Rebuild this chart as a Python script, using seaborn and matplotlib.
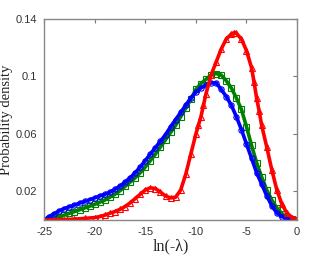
import numpy as np
import pandas as pd
import matplotlib
matplotlib.use("Agg")
import matplotlib.pyplot as plt
import seaborn as sns

# values
blue_x = [-25, -24.5, -24, -23.5, -23, -22.5, -22, -21.5, -21, -20.5, -20, -19.5, -19, -18.5,
          -18, -17.5, -17, -16.5, -16, -15.5, -15, -14.5, -14, -13.5, -13, -12.5, -12, -11.5,
          -11, -10.5, -10, -9.5, -9, -8.5, -8, -7.5, -7, -6.5, -6, -5.5, -5, -4.5, -4, -3.5,
          -3, -2.5, -2, -1.5, -1, -0.5, 0]
blue_y = [0.0, 0.0025, 0.0045, 0.0065, 0.008, 0.0093, 0.0105, 0.0118, 0.013, 0.0142, 0.0155,
          0.0168, 0.018, 0.0195, 0.0215, 0.0237, 0.0265, 0.0295, 0.033, 0.037, 0.0415, 0.046,
          0.0505, 0.055, 0.0595, 0.065, 0.070, 0.075, 0.080, 0.085, 0.089, 0.092, 0.094, 0.0955,
          0.0955, 0.091, 0.086, 0.080, 0.072, 0.063, 0.053, 0.043, 0.033, 0.025, 0.017, 0.010,
          0.005, 0.0025, 0.001, 0.0003, 0.0]

green_x = [-25, -24.5, -24, -23.5, -23, -22.5, -22, -21.5, -21, -20.5, -20, -19.5, -19, -18.5,
           -18, -17.5, -17, -16.5, -16, -15.5, -15, -14.5, -14, -13.5, -13, -12.5, -12, -11.5,
           -11, -10.5, -10, -9.5, -9, -8.5, -8, -7.5, -7, -6.5, -6, -5.5, -5, -4.5, -4, -3.5,
           -3, -2.5, -2, -1.5, -1, -0.5, 0]
green_y = [0.0, 0.0007, 0.0015, 0.0025, 0.0035, 0.0048, 0.006, 0.0072, 0.0085, 0.0097, 0.011,
           0.0125, 0.014, 0.016, 0.018, 0.0205, 0.0235, 0.0265, 0.0295, 0.033, 0.037, 0.0415,
           0.046, 0.051, 0.056, 0.061, 0.066, 0.072, 0.078, 0.084, 0.091, 0.095, 0.098, 0.101,
           0.102, 0.101, 0.097, 0.092, 0.085, 0.077, 0.065, 0.052, 0.040, 0.030, 0.021, 0.014,
           0.0085, 0.0045, 0.002, 0.0007, 0.0]

red_x = [-25, -24, -23, -22, -21, -20, -19.5, -19, -18.5, -18, -17.5, -17, -16.5, -16, -15.5,
         -15, -14.5, -14, -13.5, -13, -12.5, -12, -11.5, -11, -10.5, -10, -9.75, -9.5, -9.25,
         -9, -8.5, -8, -7.5, -7, -6.5, -6.2, -6, -5.5, -5, -4.5, -4.25, -4, -3.75, -3.5, -3,
         -2.5, -2, -1.5, -1, -0.5, 0]
red_y = [0.0, 0.0002, 0.0004, 0.0007, 0.0012, 0.0018, 0.0025, 0.0035, 0.0048, 0.006, 0.0075,
         0.0095, 0.012, 0.015, 0.018, 0.021, 0.0225, 0.022, 0.0195, 0.0168, 0.0155, 0.016,
         0.021, 0.032, 0.046, 0.060, 0.066, 0.072, 0.080, 0.088, 0.101, 0.110, 0.119, 0.126,
         0.1295, 0.1305, 0.130, 0.126, 0.118, 0.106, 0.096, 0.085, 0.076, 0.066, 0.051, 0.035,
         0.021, 0.011, 0.005, 0.0018, 0.0005]

xticks = [-25, -20, -15, -10, -5, 0]
xticklabels = ["-25", "-20", "-15", "-10", "-5", "0"]
yticks = [0.02, 0.06, 0.1, 0.14]
yticklabels = ["0.02", "0.06", "0.1", "0.14"]

sns.set_style("white")
plt.rcParams["font.family"] = ["Liberation Sans", "DejaVu Sans"]

fig = plt.figure(figsize=(3.29, 2.56), dpi=100)
ax = fig.add_axes([0.134, 0.14, 0.769, 0.786])

series = [
    (green_x, green_y, "#008000", "s"),
    (blue_x, blue_y, "#0000ff", "o"),
    (red_x, red_y, "#ff0000", "^"),
]
for xs, ys, col, mk in series:
    df = pd.DataFrame({"x": xs, "y": ys})
    sns.lineplot(data=df, x="x", y="y", ax=ax, color=col, lw=2.6, marker=mk,
                 markersize=3.8, markerfacecolor="none", markeredgecolor=col,
                 markeredgewidth=0.8)

ax.set_xlim(-25, 0)
ax.set_ylim(0, 0.14)
ax.set_xticks(xticks)
ax.set_xticklabels(xticklabels)
ax.set_yticks(yticks)
ax.set_yticklabels(yticklabels)
ax.tick_params(direction="in", length=3, width=0.8, colors="#777777", labelcolor="#333333",
               labelsize=8, top=True, right=True, pad=5)

for sp in ax.spines.values():
    sp.set_color("#888888")
    sp.set_linewidth(1.0)

ax.set_xlabel("ln(-λ)", family=["Liberation Serif", "DejaVu Serif"], fontsize=11.5,
              color="#222222", labelpad=1)
ax.set_ylabel("Probability density", family=["Liberation Serif", "DejaVu Serif"],
              fontsize=10.5, color="#222222", labelpad=2)

fig.savefig("out.png", dpi=100)
